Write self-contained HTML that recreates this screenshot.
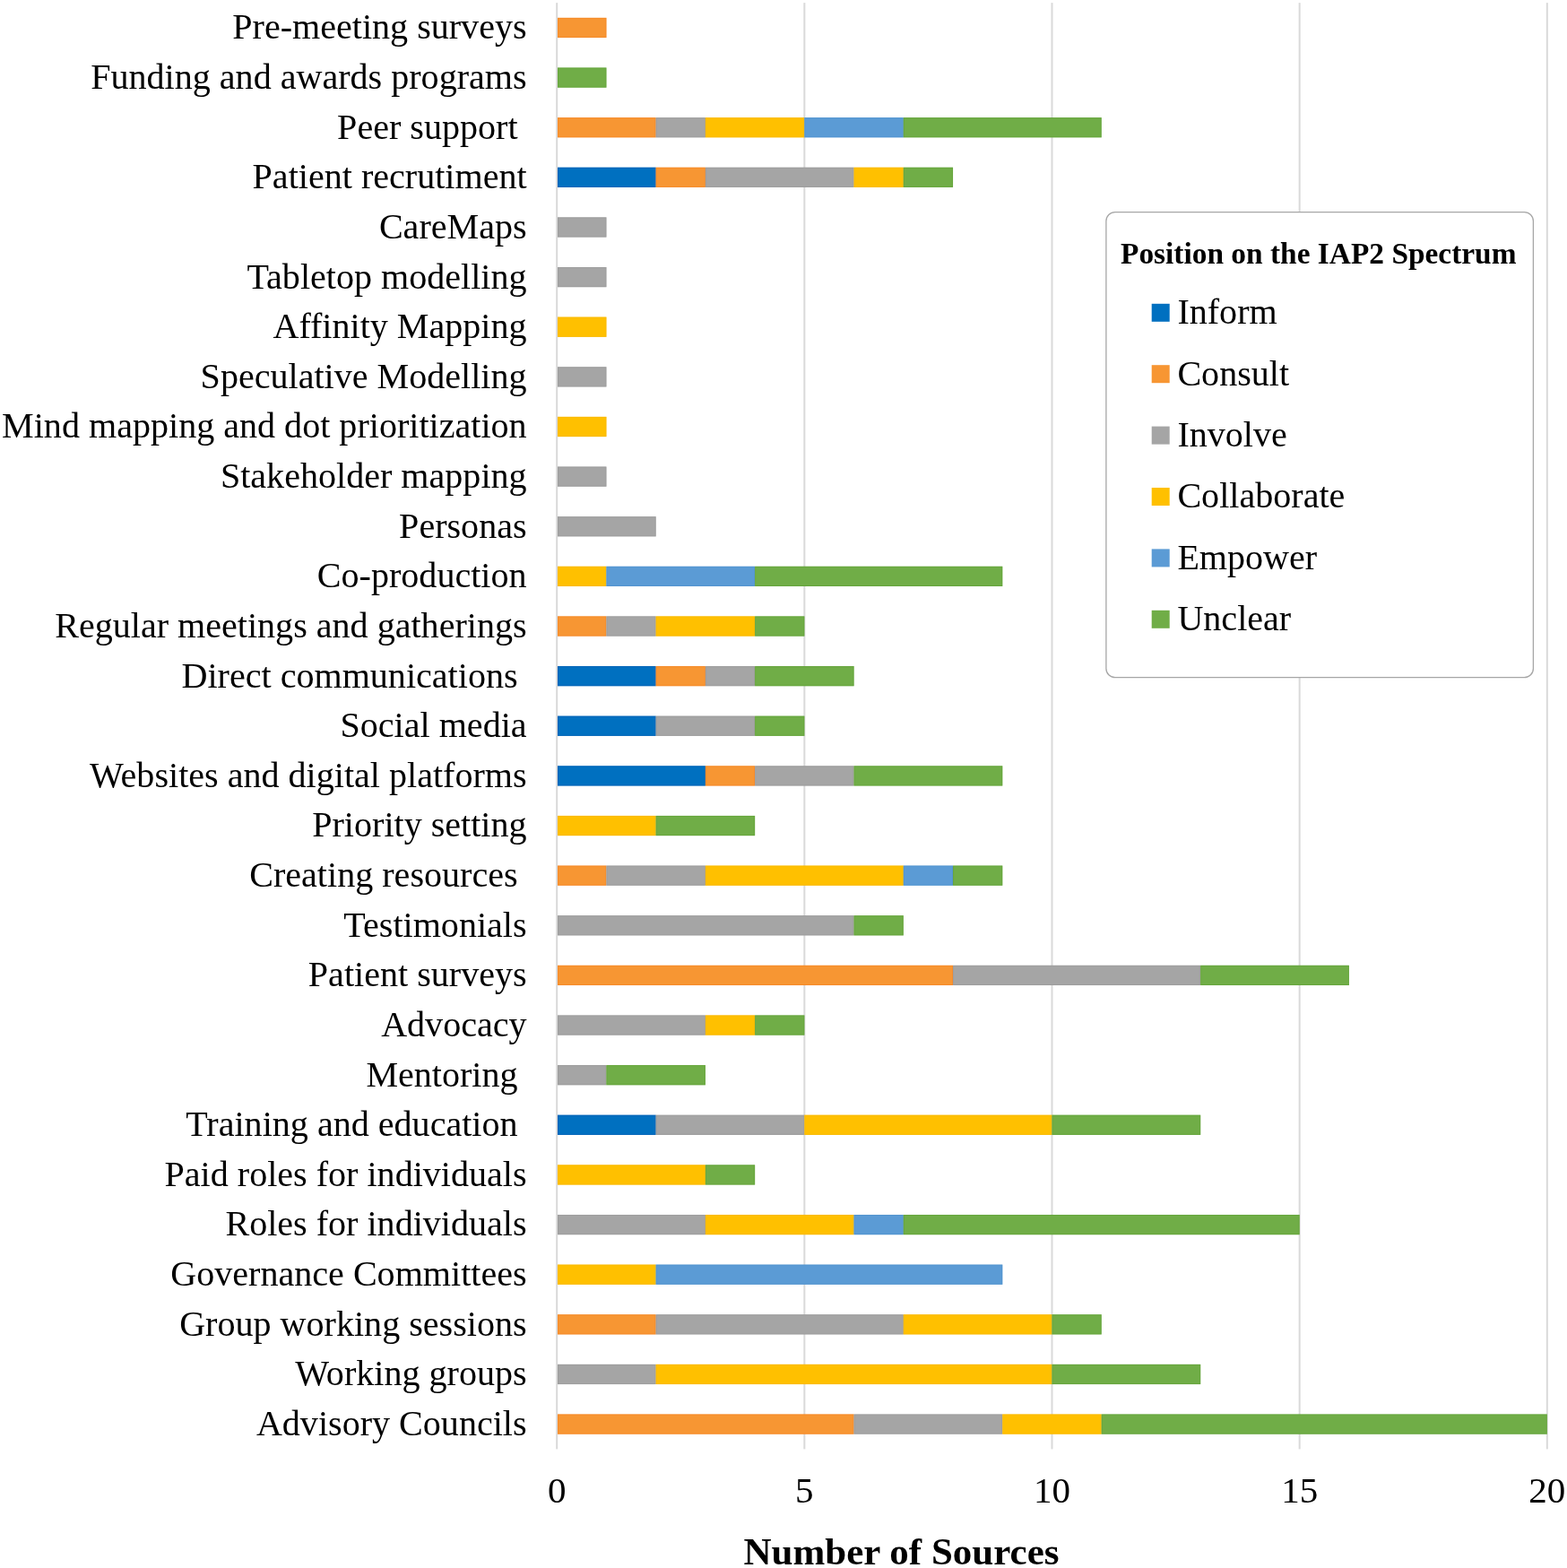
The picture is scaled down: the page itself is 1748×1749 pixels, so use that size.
<!DOCTYPE html><html><head><meta charset="utf-8"><style>html,body{margin:0;padding:0;background:#fff;}svg{display:block}text{font-family:"Liberation Serif","Times New Roman",serif;white-space:pre;}</style></head><body>
<svg width="1748" height="1749" viewBox="0 0 1748 1749">
<rect x="0" y="0" width="1748" height="1749" fill="#fff"/>
<rect x="620.20" y="3.13" width="2" height="1613.27" fill="#D9D9D9"/>
<rect x="896.35" y="3.13" width="2" height="1613.27" fill="#D9D9D9"/>
<rect x="1172.50" y="3.13" width="2" height="1613.27" fill="#D9D9D9"/>
<rect x="1448.65" y="3.13" width="2" height="1613.27" fill="#D9D9D9"/>
<rect x="1724.80" y="3.13" width="2" height="1613.27" fill="#D9D9D9"/>
<rect x="622.00" y="19.85" width="54.43" height="22.2" fill="#F79633"/>
<rect x="622.50" y="20.35" width="53.43" height="21.20" fill="none" stroke="#F58220" stroke-width="1" stroke-opacity="0.55"/>
<text x="587.6" y="43.35" font-size="40.1" text-anchor="end" xml:space="preserve">Pre-meeting surveys</text>
<rect x="622.00" y="75.48" width="54.43" height="22.2" fill="#70AD47"/>
<rect x="622.50" y="75.98" width="53.43" height="21.20" fill="none" stroke="#5FA035" stroke-width="1" stroke-opacity="0.55"/>
<text x="587.6" y="98.98" font-size="40.1" text-anchor="end" xml:space="preserve">Funding and awards programs</text>
<rect x="622.00" y="131.11" width="109.66" height="22.2" fill="#F79633"/>
<rect x="622.50" y="131.61" width="108.66" height="21.20" fill="none" stroke="#F58220" stroke-width="1" stroke-opacity="0.55"/>
<rect x="731.66" y="131.11" width="55.23" height="22.2" fill="#A5A5A5"/>
<rect x="732.16" y="131.61" width="54.23" height="21.20" fill="none" stroke="#989898" stroke-width="1" stroke-opacity="0.55"/>
<rect x="786.89" y="131.11" width="110.46" height="22.2" fill="#FFC000"/>
<rect x="787.39" y="131.61" width="109.46" height="21.20" fill="none" stroke="#F5B400" stroke-width="1" stroke-opacity="0.55"/>
<rect x="897.35" y="131.11" width="110.46" height="22.2" fill="#5B9BD5"/>
<rect x="897.85" y="131.61" width="109.46" height="21.20" fill="none" stroke="#4C8FCC" stroke-width="1" stroke-opacity="0.55"/>
<rect x="1007.81" y="131.11" width="220.92" height="22.2" fill="#70AD47"/>
<rect x="1008.31" y="131.61" width="219.92" height="21.20" fill="none" stroke="#5FA035" stroke-width="1" stroke-opacity="0.55"/>
<text x="587.6" y="154.61" font-size="40.1" text-anchor="end" xml:space="preserve">Peer support </text>
<rect x="622.00" y="186.74" width="109.66" height="22.2" fill="#0070C0"/>
<rect x="622.50" y="187.24" width="108.66" height="21.20" fill="none" stroke="#005AB0" stroke-width="1" stroke-opacity="0.55"/>
<rect x="731.66" y="186.74" width="55.23" height="22.2" fill="#F79633"/>
<rect x="732.16" y="187.24" width="54.23" height="21.20" fill="none" stroke="#F58220" stroke-width="1" stroke-opacity="0.55"/>
<rect x="786.89" y="186.74" width="165.69" height="22.2" fill="#A5A5A5"/>
<rect x="787.39" y="187.24" width="164.69" height="21.20" fill="none" stroke="#989898" stroke-width="1" stroke-opacity="0.55"/>
<rect x="952.58" y="186.74" width="55.23" height="22.2" fill="#FFC000"/>
<rect x="953.08" y="187.24" width="54.23" height="21.20" fill="none" stroke="#F5B400" stroke-width="1" stroke-opacity="0.55"/>
<rect x="1007.81" y="186.74" width="55.23" height="22.2" fill="#70AD47"/>
<rect x="1008.31" y="187.24" width="54.23" height="21.20" fill="none" stroke="#5FA035" stroke-width="1" stroke-opacity="0.55"/>
<text x="587.6" y="210.24" font-size="40.1" text-anchor="end" xml:space="preserve">Patient recrutiment</text>
<rect x="622.00" y="242.37" width="54.43" height="22.2" fill="#A5A5A5"/>
<rect x="622.50" y="242.87" width="53.43" height="21.20" fill="none" stroke="#989898" stroke-width="1" stroke-opacity="0.55"/>
<text x="587.6" y="265.87" font-size="40.1" text-anchor="end" xml:space="preserve">CareMaps</text>
<rect x="622.00" y="298.00" width="54.43" height="22.2" fill="#A5A5A5"/>
<rect x="622.50" y="298.50" width="53.43" height="21.20" fill="none" stroke="#989898" stroke-width="1" stroke-opacity="0.55"/>
<text x="587.6" y="321.50" font-size="40.1" text-anchor="end" xml:space="preserve">Tabletop modelling</text>
<rect x="622.00" y="353.63" width="54.43" height="22.2" fill="#FFC000"/>
<rect x="622.50" y="354.13" width="53.43" height="21.20" fill="none" stroke="#F5B400" stroke-width="1" stroke-opacity="0.55"/>
<text x="587.6" y="377.13" font-size="40.1" text-anchor="end" xml:space="preserve">Affinity Mapping</text>
<rect x="622.00" y="409.26" width="54.43" height="22.2" fill="#A5A5A5"/>
<rect x="622.50" y="409.76" width="53.43" height="21.20" fill="none" stroke="#989898" stroke-width="1" stroke-opacity="0.55"/>
<text x="587.6" y="432.76" font-size="40.1" text-anchor="end" xml:space="preserve">Speculative Modelling</text>
<rect x="622.00" y="464.89" width="54.43" height="22.2" fill="#FFC000"/>
<rect x="622.50" y="465.39" width="53.43" height="21.20" fill="none" stroke="#F5B400" stroke-width="1" stroke-opacity="0.55"/>
<text x="587.6" y="488.39" font-size="40.1" text-anchor="end" xml:space="preserve">Mind mapping and dot prioritization</text>
<rect x="622.00" y="520.52" width="54.43" height="22.2" fill="#A5A5A5"/>
<rect x="622.50" y="521.02" width="53.43" height="21.20" fill="none" stroke="#989898" stroke-width="1" stroke-opacity="0.55"/>
<text x="587.6" y="544.02" font-size="40.1" text-anchor="end" xml:space="preserve">Stakeholder mapping</text>
<rect x="622.00" y="576.15" width="109.66" height="22.2" fill="#A5A5A5"/>
<rect x="622.50" y="576.65" width="108.66" height="21.20" fill="none" stroke="#989898" stroke-width="1" stroke-opacity="0.55"/>
<text x="587.6" y="599.65" font-size="40.1" text-anchor="end" xml:space="preserve">Personas</text>
<rect x="622.00" y="631.78" width="54.43" height="22.2" fill="#FFC000"/>
<rect x="622.50" y="632.28" width="53.43" height="21.20" fill="none" stroke="#F5B400" stroke-width="1" stroke-opacity="0.55"/>
<rect x="676.43" y="631.78" width="165.69" height="22.2" fill="#5B9BD5"/>
<rect x="676.93" y="632.28" width="164.69" height="21.20" fill="none" stroke="#4C8FCC" stroke-width="1" stroke-opacity="0.55"/>
<rect x="842.12" y="631.78" width="276.15" height="22.2" fill="#70AD47"/>
<rect x="842.62" y="632.28" width="275.15" height="21.20" fill="none" stroke="#5FA035" stroke-width="1" stroke-opacity="0.55"/>
<text x="587.6" y="655.28" font-size="40.1" text-anchor="end" xml:space="preserve">Co-production</text>
<rect x="622.00" y="687.41" width="54.43" height="22.2" fill="#F79633"/>
<rect x="622.50" y="687.91" width="53.43" height="21.20" fill="none" stroke="#F58220" stroke-width="1" stroke-opacity="0.55"/>
<rect x="676.43" y="687.41" width="55.23" height="22.2" fill="#A5A5A5"/>
<rect x="676.93" y="687.91" width="54.23" height="21.20" fill="none" stroke="#989898" stroke-width="1" stroke-opacity="0.55"/>
<rect x="731.66" y="687.41" width="110.46" height="22.2" fill="#FFC000"/>
<rect x="732.16" y="687.91" width="109.46" height="21.20" fill="none" stroke="#F5B400" stroke-width="1" stroke-opacity="0.55"/>
<rect x="842.12" y="687.41" width="55.23" height="22.2" fill="#70AD47"/>
<rect x="842.62" y="687.91" width="54.23" height="21.20" fill="none" stroke="#5FA035" stroke-width="1" stroke-opacity="0.55"/>
<text x="587.6" y="710.91" font-size="40.1" text-anchor="end" xml:space="preserve">Regular meetings and gatherings</text>
<rect x="622.00" y="743.04" width="109.66" height="22.2" fill="#0070C0"/>
<rect x="622.50" y="743.54" width="108.66" height="21.20" fill="none" stroke="#005AB0" stroke-width="1" stroke-opacity="0.55"/>
<rect x="731.66" y="743.04" width="55.23" height="22.2" fill="#F79633"/>
<rect x="732.16" y="743.54" width="54.23" height="21.20" fill="none" stroke="#F58220" stroke-width="1" stroke-opacity="0.55"/>
<rect x="786.89" y="743.04" width="55.23" height="22.2" fill="#A5A5A5"/>
<rect x="787.39" y="743.54" width="54.23" height="21.20" fill="none" stroke="#989898" stroke-width="1" stroke-opacity="0.55"/>
<rect x="842.12" y="743.04" width="110.46" height="22.2" fill="#70AD47"/>
<rect x="842.62" y="743.54" width="109.46" height="21.20" fill="none" stroke="#5FA035" stroke-width="1" stroke-opacity="0.55"/>
<text x="587.6" y="766.54" font-size="40.1" text-anchor="end" xml:space="preserve">Direct communications </text>
<rect x="622.00" y="798.67" width="109.66" height="22.2" fill="#0070C0"/>
<rect x="622.50" y="799.17" width="108.66" height="21.20" fill="none" stroke="#005AB0" stroke-width="1" stroke-opacity="0.55"/>
<rect x="731.66" y="798.67" width="110.46" height="22.2" fill="#A5A5A5"/>
<rect x="732.16" y="799.17" width="109.46" height="21.20" fill="none" stroke="#989898" stroke-width="1" stroke-opacity="0.55"/>
<rect x="842.12" y="798.67" width="55.23" height="22.2" fill="#70AD47"/>
<rect x="842.62" y="799.17" width="54.23" height="21.20" fill="none" stroke="#5FA035" stroke-width="1" stroke-opacity="0.55"/>
<text x="587.6" y="822.17" font-size="40.1" text-anchor="end" xml:space="preserve">Social media</text>
<rect x="622.00" y="854.30" width="164.89" height="22.2" fill="#0070C0"/>
<rect x="622.50" y="854.80" width="163.89" height="21.20" fill="none" stroke="#005AB0" stroke-width="1" stroke-opacity="0.55"/>
<rect x="786.89" y="854.30" width="55.23" height="22.2" fill="#F79633"/>
<rect x="787.39" y="854.80" width="54.23" height="21.20" fill="none" stroke="#F58220" stroke-width="1" stroke-opacity="0.55"/>
<rect x="842.12" y="854.30" width="110.46" height="22.2" fill="#A5A5A5"/>
<rect x="842.62" y="854.80" width="109.46" height="21.20" fill="none" stroke="#989898" stroke-width="1" stroke-opacity="0.55"/>
<rect x="952.58" y="854.30" width="165.69" height="22.2" fill="#70AD47"/>
<rect x="953.08" y="854.80" width="164.69" height="21.20" fill="none" stroke="#5FA035" stroke-width="1" stroke-opacity="0.55"/>
<text x="587.6" y="877.80" font-size="40.1" text-anchor="end" xml:space="preserve">Websites and digital platforms</text>
<rect x="622.00" y="909.93" width="109.66" height="22.2" fill="#FFC000"/>
<rect x="622.50" y="910.43" width="108.66" height="21.20" fill="none" stroke="#F5B400" stroke-width="1" stroke-opacity="0.55"/>
<rect x="731.66" y="909.93" width="110.46" height="22.2" fill="#70AD47"/>
<rect x="732.16" y="910.43" width="109.46" height="21.20" fill="none" stroke="#5FA035" stroke-width="1" stroke-opacity="0.55"/>
<text x="587.6" y="933.43" font-size="40.1" text-anchor="end" xml:space="preserve">Priority setting</text>
<rect x="622.00" y="965.56" width="54.43" height="22.2" fill="#F79633"/>
<rect x="622.50" y="966.06" width="53.43" height="21.20" fill="none" stroke="#F58220" stroke-width="1" stroke-opacity="0.55"/>
<rect x="676.43" y="965.56" width="110.46" height="22.2" fill="#A5A5A5"/>
<rect x="676.93" y="966.06" width="109.46" height="21.20" fill="none" stroke="#989898" stroke-width="1" stroke-opacity="0.55"/>
<rect x="786.89" y="965.56" width="220.92" height="22.2" fill="#FFC000"/>
<rect x="787.39" y="966.06" width="219.92" height="21.20" fill="none" stroke="#F5B400" stroke-width="1" stroke-opacity="0.55"/>
<rect x="1007.81" y="965.56" width="55.23" height="22.2" fill="#5B9BD5"/>
<rect x="1008.31" y="966.06" width="54.23" height="21.20" fill="none" stroke="#4C8FCC" stroke-width="1" stroke-opacity="0.55"/>
<rect x="1063.04" y="965.56" width="55.23" height="22.2" fill="#70AD47"/>
<rect x="1063.54" y="966.06" width="54.23" height="21.20" fill="none" stroke="#5FA035" stroke-width="1" stroke-opacity="0.55"/>
<text x="587.6" y="989.06" font-size="40.1" text-anchor="end" xml:space="preserve">Creating resources </text>
<rect x="622.00" y="1021.19" width="330.58" height="22.2" fill="#A5A5A5"/>
<rect x="622.50" y="1021.69" width="329.58" height="21.20" fill="none" stroke="#989898" stroke-width="1" stroke-opacity="0.55"/>
<rect x="952.58" y="1021.19" width="55.23" height="22.2" fill="#70AD47"/>
<rect x="953.08" y="1021.69" width="54.23" height="21.20" fill="none" stroke="#5FA035" stroke-width="1" stroke-opacity="0.55"/>
<text x="587.6" y="1044.69" font-size="40.1" text-anchor="end" xml:space="preserve">Testimonials</text>
<rect x="622.00" y="1076.82" width="441.04" height="22.2" fill="#F79633"/>
<rect x="622.50" y="1077.32" width="440.04" height="21.20" fill="none" stroke="#F58220" stroke-width="1" stroke-opacity="0.55"/>
<rect x="1063.04" y="1076.82" width="276.15" height="22.2" fill="#A5A5A5"/>
<rect x="1063.54" y="1077.32" width="275.15" height="21.20" fill="none" stroke="#989898" stroke-width="1" stroke-opacity="0.55"/>
<rect x="1339.19" y="1076.82" width="165.69" height="22.2" fill="#70AD47"/>
<rect x="1339.69" y="1077.32" width="164.69" height="21.20" fill="none" stroke="#5FA035" stroke-width="1" stroke-opacity="0.55"/>
<text x="587.6" y="1100.32" font-size="40.1" text-anchor="end" xml:space="preserve">Patient surveys</text>
<rect x="622.00" y="1132.45" width="164.89" height="22.2" fill="#A5A5A5"/>
<rect x="622.50" y="1132.95" width="163.89" height="21.20" fill="none" stroke="#989898" stroke-width="1" stroke-opacity="0.55"/>
<rect x="786.89" y="1132.45" width="55.23" height="22.2" fill="#FFC000"/>
<rect x="787.39" y="1132.95" width="54.23" height="21.20" fill="none" stroke="#F5B400" stroke-width="1" stroke-opacity="0.55"/>
<rect x="842.12" y="1132.45" width="55.23" height="22.2" fill="#70AD47"/>
<rect x="842.62" y="1132.95" width="54.23" height="21.20" fill="none" stroke="#5FA035" stroke-width="1" stroke-opacity="0.55"/>
<text x="587.6" y="1155.95" font-size="40.1" text-anchor="end" xml:space="preserve">Advocacy</text>
<rect x="622.00" y="1188.08" width="54.43" height="22.2" fill="#A5A5A5"/>
<rect x="622.50" y="1188.58" width="53.43" height="21.20" fill="none" stroke="#989898" stroke-width="1" stroke-opacity="0.55"/>
<rect x="676.43" y="1188.08" width="110.46" height="22.2" fill="#70AD47"/>
<rect x="676.93" y="1188.58" width="109.46" height="21.20" fill="none" stroke="#5FA035" stroke-width="1" stroke-opacity="0.55"/>
<text x="587.6" y="1211.58" font-size="40.1" text-anchor="end" xml:space="preserve">Mentoring </text>
<rect x="622.00" y="1243.71" width="109.66" height="22.2" fill="#0070C0"/>
<rect x="622.50" y="1244.21" width="108.66" height="21.20" fill="none" stroke="#005AB0" stroke-width="1" stroke-opacity="0.55"/>
<rect x="731.66" y="1243.71" width="165.69" height="22.2" fill="#A5A5A5"/>
<rect x="732.16" y="1244.21" width="164.69" height="21.20" fill="none" stroke="#989898" stroke-width="1" stroke-opacity="0.55"/>
<rect x="897.35" y="1243.71" width="276.15" height="22.2" fill="#FFC000"/>
<rect x="897.85" y="1244.21" width="275.15" height="21.20" fill="none" stroke="#F5B400" stroke-width="1" stroke-opacity="0.55"/>
<rect x="1173.50" y="1243.71" width="165.69" height="22.2" fill="#70AD47"/>
<rect x="1174.00" y="1244.21" width="164.69" height="21.20" fill="none" stroke="#5FA035" stroke-width="1" stroke-opacity="0.55"/>
<text x="587.6" y="1267.21" font-size="40.1" text-anchor="end" xml:space="preserve">Training and education </text>
<rect x="622.00" y="1299.34" width="164.89" height="22.2" fill="#FFC000"/>
<rect x="622.50" y="1299.84" width="163.89" height="21.20" fill="none" stroke="#F5B400" stroke-width="1" stroke-opacity="0.55"/>
<rect x="786.89" y="1299.34" width="55.23" height="22.2" fill="#70AD47"/>
<rect x="787.39" y="1299.84" width="54.23" height="21.20" fill="none" stroke="#5FA035" stroke-width="1" stroke-opacity="0.55"/>
<text x="587.6" y="1322.84" font-size="40.1" text-anchor="end" xml:space="preserve">Paid roles for individuals</text>
<rect x="622.00" y="1354.97" width="164.89" height="22.2" fill="#A5A5A5"/>
<rect x="622.50" y="1355.47" width="163.89" height="21.20" fill="none" stroke="#989898" stroke-width="1" stroke-opacity="0.55"/>
<rect x="786.89" y="1354.97" width="165.69" height="22.2" fill="#FFC000"/>
<rect x="787.39" y="1355.47" width="164.69" height="21.20" fill="none" stroke="#F5B400" stroke-width="1" stroke-opacity="0.55"/>
<rect x="952.58" y="1354.97" width="55.23" height="22.2" fill="#5B9BD5"/>
<rect x="953.08" y="1355.47" width="54.23" height="21.20" fill="none" stroke="#4C8FCC" stroke-width="1" stroke-opacity="0.55"/>
<rect x="1007.81" y="1354.97" width="441.84" height="22.2" fill="#70AD47"/>
<rect x="1008.31" y="1355.47" width="440.84" height="21.20" fill="none" stroke="#5FA035" stroke-width="1" stroke-opacity="0.55"/>
<text x="587.6" y="1378.47" font-size="40.1" text-anchor="end" xml:space="preserve">Roles for individuals</text>
<rect x="622.00" y="1410.60" width="109.66" height="22.2" fill="#FFC000"/>
<rect x="622.50" y="1411.10" width="108.66" height="21.20" fill="none" stroke="#F5B400" stroke-width="1" stroke-opacity="0.55"/>
<rect x="731.66" y="1410.60" width="386.61" height="22.2" fill="#5B9BD5"/>
<rect x="732.16" y="1411.10" width="385.61" height="21.20" fill="none" stroke="#4C8FCC" stroke-width="1" stroke-opacity="0.55"/>
<text x="587.6" y="1434.10" font-size="40.1" text-anchor="end" xml:space="preserve">Governance Committees</text>
<rect x="622.00" y="1466.23" width="109.66" height="22.2" fill="#F79633"/>
<rect x="622.50" y="1466.73" width="108.66" height="21.20" fill="none" stroke="#F58220" stroke-width="1" stroke-opacity="0.55"/>
<rect x="731.66" y="1466.23" width="276.15" height="22.2" fill="#A5A5A5"/>
<rect x="732.16" y="1466.73" width="275.15" height="21.20" fill="none" stroke="#989898" stroke-width="1" stroke-opacity="0.55"/>
<rect x="1007.81" y="1466.23" width="165.69" height="22.2" fill="#FFC000"/>
<rect x="1008.31" y="1466.73" width="164.69" height="21.20" fill="none" stroke="#F5B400" stroke-width="1" stroke-opacity="0.55"/>
<rect x="1173.50" y="1466.23" width="55.23" height="22.2" fill="#70AD47"/>
<rect x="1174.00" y="1466.73" width="54.23" height="21.20" fill="none" stroke="#5FA035" stroke-width="1" stroke-opacity="0.55"/>
<text x="587.6" y="1489.73" font-size="40.1" text-anchor="end" xml:space="preserve">Group working sessions</text>
<rect x="622.00" y="1521.86" width="109.66" height="22.2" fill="#A5A5A5"/>
<rect x="622.50" y="1522.36" width="108.66" height="21.20" fill="none" stroke="#989898" stroke-width="1" stroke-opacity="0.55"/>
<rect x="731.66" y="1521.86" width="441.84" height="22.2" fill="#FFC000"/>
<rect x="732.16" y="1522.36" width="440.84" height="21.20" fill="none" stroke="#F5B400" stroke-width="1" stroke-opacity="0.55"/>
<rect x="1173.50" y="1521.86" width="165.69" height="22.2" fill="#70AD47"/>
<rect x="1174.00" y="1522.36" width="164.69" height="21.20" fill="none" stroke="#5FA035" stroke-width="1" stroke-opacity="0.55"/>
<text x="587.6" y="1545.36" font-size="40.1" text-anchor="end" xml:space="preserve">Working groups</text>
<rect x="622.00" y="1577.49" width="330.58" height="22.2" fill="#F79633"/>
<rect x="622.50" y="1577.99" width="329.58" height="21.20" fill="none" stroke="#F58220" stroke-width="1" stroke-opacity="0.55"/>
<rect x="952.58" y="1577.49" width="165.69" height="22.2" fill="#A5A5A5"/>
<rect x="953.08" y="1577.99" width="164.69" height="21.20" fill="none" stroke="#989898" stroke-width="1" stroke-opacity="0.55"/>
<rect x="1118.27" y="1577.49" width="110.46" height="22.2" fill="#FFC000"/>
<rect x="1118.77" y="1577.99" width="109.46" height="21.20" fill="none" stroke="#F5B400" stroke-width="1" stroke-opacity="0.55"/>
<rect x="1228.73" y="1577.49" width="497.07" height="22.2" fill="#70AD47"/>
<rect x="1229.23" y="1577.99" width="496.07" height="21.20" fill="none" stroke="#5FA035" stroke-width="1" stroke-opacity="0.55"/>
<text x="587.6" y="1600.99" font-size="40.1" text-anchor="end" xml:space="preserve">Advisory Councils</text>
<text x="621.20" y="1675.6" font-size="41" text-anchor="middle">0</text>
<text x="897.35" y="1675.6" font-size="41" text-anchor="middle">5</text>
<text x="1173.50" y="1675.6" font-size="41" text-anchor="middle">10</text>
<text x="1449.65" y="1675.6" font-size="41" text-anchor="middle">15</text>
<text x="1725.80" y="1675.6" font-size="41" text-anchor="middle">20</text>
<text x="1005.5" y="1744.8" font-size="43" font-weight="bold" text-anchor="middle">Number of Sources</text>
<rect x="1233.9" y="236.6" width="476.5" height="519.1" rx="10" ry="10" fill="#fff" stroke="#A6A6A6" stroke-width="1.3"/>
<text x="1250" y="293.6" font-size="33.4" font-weight="bold">Position on the IAP2 Spectrum</text>
<rect x="1284.7" y="338.80" width="20" height="20" fill="#0070C0"/>
<text x="1313.4" y="361.20" font-size="40.1">Inform</text>
<rect x="1284.7" y="407.20" width="20" height="20" fill="#F79633"/>
<text x="1313.4" y="429.60" font-size="40.1">Consult</text>
<rect x="1284.7" y="475.60" width="20" height="20" fill="#A5A5A5"/>
<text x="1313.4" y="498.00" font-size="40.1">Involve</text>
<rect x="1284.7" y="544.00" width="20" height="20" fill="#FFC000"/>
<text x="1313.4" y="566.40" font-size="40.1">Collaborate</text>
<rect x="1284.7" y="612.40" width="20" height="20" fill="#5B9BD5"/>
<text x="1313.4" y="634.80" font-size="40.1">Empower</text>
<rect x="1284.7" y="680.80" width="20" height="20" fill="#70AD47"/>
<text x="1313.4" y="703.20" font-size="40.1">Unclear</text>
</svg></body></html>
